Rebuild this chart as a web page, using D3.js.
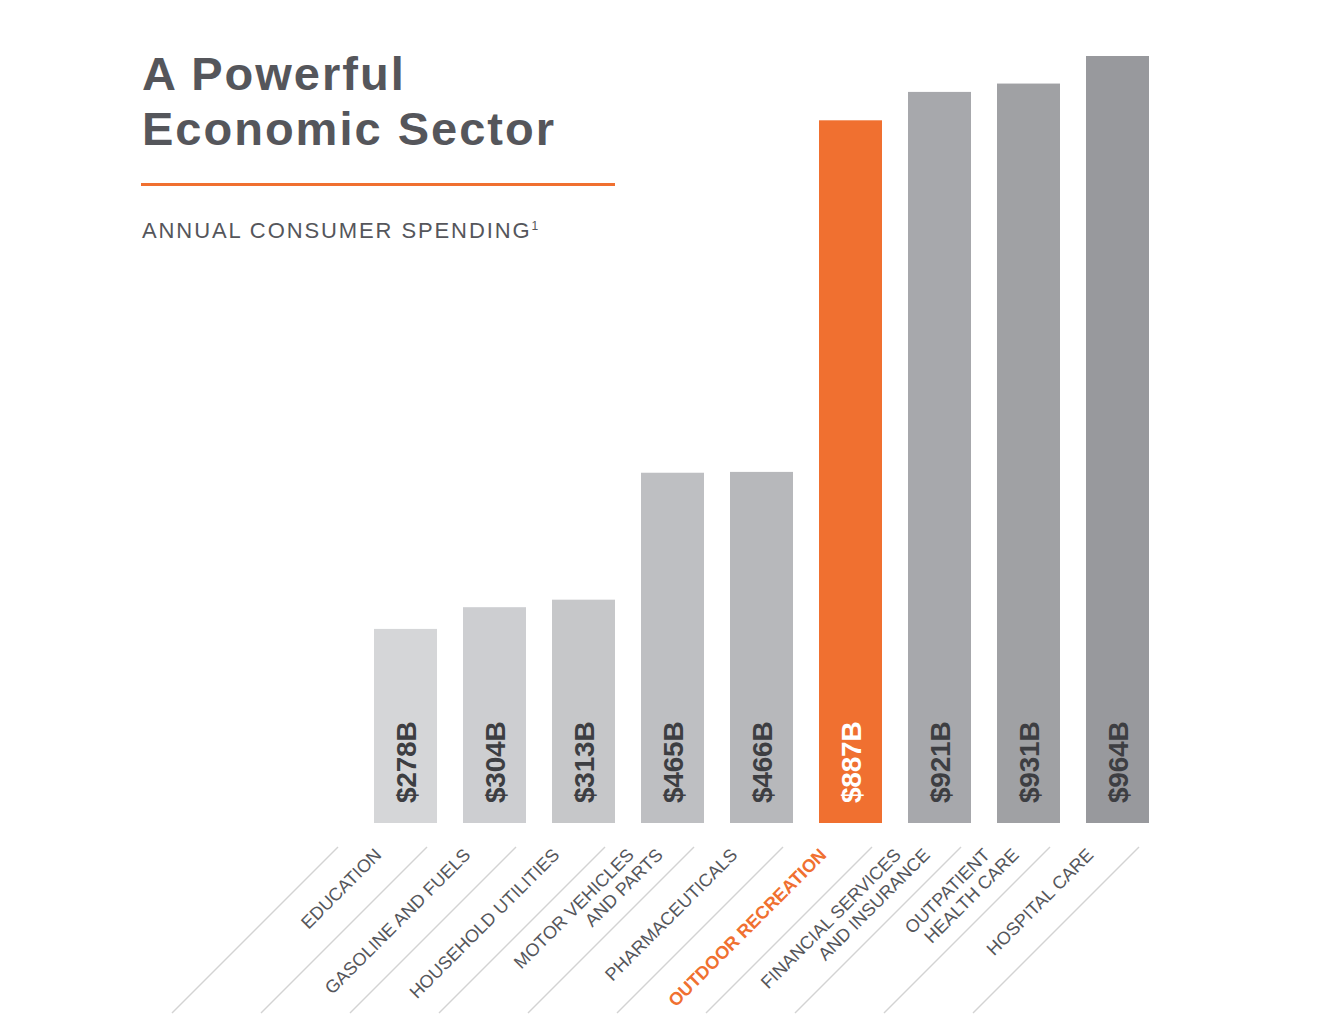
<!DOCTYPE html>
<html>
<head>
<meta charset="utf-8">
<title>A Powerful Economic Sector</title>
<script src="https://cdn.jsdelivr.net/npm/d3@7/dist/d3.min.js"></script>
<style>
    body { margin: 0; background: #fff; }
    svg { display: block; }
</style>
</head>
<body>
<div id="chart"></div>
<script>
// data
const categories = [
    'EDUCATION',
    'GASOLINE AND FUELS',
    'HOUSEHOLD UTILITIES',
    'MOTOR VEHICLES\nAND PARTS',
    'PHARMACEUTICALS',
    'OUTDOOR RECREATION',
    'FINANCIAL SERVICES\nAND INSURANCE',
    'OUTPATIENT\nHEALTH CARE',
    'HOSPITAL CARE'
]
const spending = [278, 304, 313, 465, 466, 887, 921, 931, 964] // billions of dollars
const valueLabels = ['$278B', '$304B', '$313B', '$465B', '$466B', '$887B', '$921B', '$931B', '$964B']
const highlight = 'OUTDOOR RECREATION'

const titleLines = ['A Powerful', 'Economic Sector']
const subtitle = 'ANNUAL CONSUMER SPENDING'
const footnoteMark = '1'

const width = 1340
const height = 1032
const orange = '#f07030'
const textGrey = '#55565b'

const svg = d3.select('#chart').append('svg')
    .attr('width', width)
    .attr('height', height)

// titel blok
const title = svg.append('text')
    .attr('x', 142)
    .attr('y', 90)
    .attr('fill', textGrey)
    .style('font-family', '"Liberation Sans", Arial, sans-serif')
    .style('font-weight', 'bold')
    .style('font-size', '47px')
    .style('letter-spacing', '2px')
title.selectAll('tspan')
    .data(titleLines)
    .enter()
    .append('tspan')
    .attr('x', 142)
    .attr('dy', (d, i) => i === 0 ? 0 : 55)
    .text(d => d)

svg.append('line')
    .attr('x1', 141).attr('x2', 615)
    .attr('y1', 184.5).attr('y2', 184.5)
    .attr('stroke', orange)
    .attr('stroke-width', 3)

const sub = svg.append('text')
    .attr('x', 142)
    .attr('y', 238)
    .attr('fill', textGrey)
    .style('font-family', '"Liberation Sans", Arial, sans-serif')
    .style('font-size', '22px')
    .style('letter-spacing', '1.9px')
sub.append('tspan').text(subtitle)
sub.append('tspan')
    .attr('dy', -8)
    .attr('dx', 0)
    .style('font-size', '12px')
    .style('letter-spacing', '0px')
    .text(footnoteMark)

// scales
const xScale = d3.scaleBand()
    .domain(categories)
    .range([361, 1162])
    .paddingInner(26 / 89)
    .paddingOuter(13 / 89)

// de grafiek begint niet bij nul, de balken zijn zo getekend
const baseY = 823
const yScale = d3.scaleLinear()
    .domain([45.6, d3.max(spending)])
    .range([baseY, 56])

const greyScale = d3.scaleLinear()
    .domain([0, categories.length - 1])
    .range(['#d5d6d8', '#98999d'])
    .interpolate(d3.interpolateRgb)

const rows = categories.map((c, i) => ({ cat: c, value: spending[i], label: valueLabels[i], i: i }))
const isHighlight = d => d.cat === highlight

// balken
svg.append('g')
    .selectAll('rect')
    .data(rows)
    .enter()
    .append('rect')
    .attr('x', d => xScale(d.cat))
    .attr('y', d => yScale(d.value))
    .attr('width', xScale.bandwidth())
    .attr('height', d => baseY - yScale(d.value))
    .attr('fill', d => isHighlight(d) ? orange : greyScale(d.i))

// waarde labels in de balken
svg.append('g')
    .selectAll('text')
    .data(rows)
    .enter()
    .append('text')
    .attr('transform', d => `translate(${xScale(d.cat) + xScale.bandwidth() / 2 + 10}, 803) rotate(-90)`)
    .attr('fill', d => isHighlight(d) ? '#ffffff' : '#3d3e42')
    .style('font-family', '"Liberation Sans", Arial, sans-serif')
    .style('font-weight', 'bold')
    .style('font-size', '28px')
    .style('letter-spacing', '-0.2px')
    .text(d => d.label)

// schuine scheidingslijnen onder de balken
const lineTop = 847
const lineDrop = 166
const boundaries = d3.range(categories.length + 1)
    .map(i => xScale.range()[0] + i * xScale.step() - 23)

svg.append('g')
    .selectAll('line')
    .data(boundaries)
    .enter()
    .append('line')
    .attr('x1', d => d)
    .attr('y1', lineTop)
    .attr('x2', d => d - lineDrop)
    .attr('y2', lineTop + lineDrop)
    .attr('stroke', '#d3d3d3')
    .attr('stroke-width', 1.5)

// categorie labels, 45 graden gedraaid
const lineStep = 20.5
const labels = svg.append('g')
    .selectAll('text')
    .data(rows)
    .enter()
    .append('text')
    .attr('transform', d => `translate(${xScale(d.cat) + xScale.bandwidth() / 2 - 23}, 856) rotate(-45)`)
    .attr('text-anchor', 'end')
    .attr('fill', d => isHighlight(d) ? orange : '#55565b')
    .style('font-family', '"Liberation Sans", Arial, sans-serif')
    .style('font-weight', d => isHighlight(d) ? 'bold' : 'normal')
    .style('font-size', '18px')

labels.each(function (d) {
    const parts = d.cat.split('\n')
    const mid = (parts.length - 1) / 2
    d3.select(this).selectAll('tspan')
        .data(parts)
        .enter()
        .append('tspan')
        .attr('x', (p, k) => (k - mid) * lineStep)
        .attr('y', (p, k) => (k - mid) * lineStep)
        .text(p => p)
})
</script>
</body>
</html>
